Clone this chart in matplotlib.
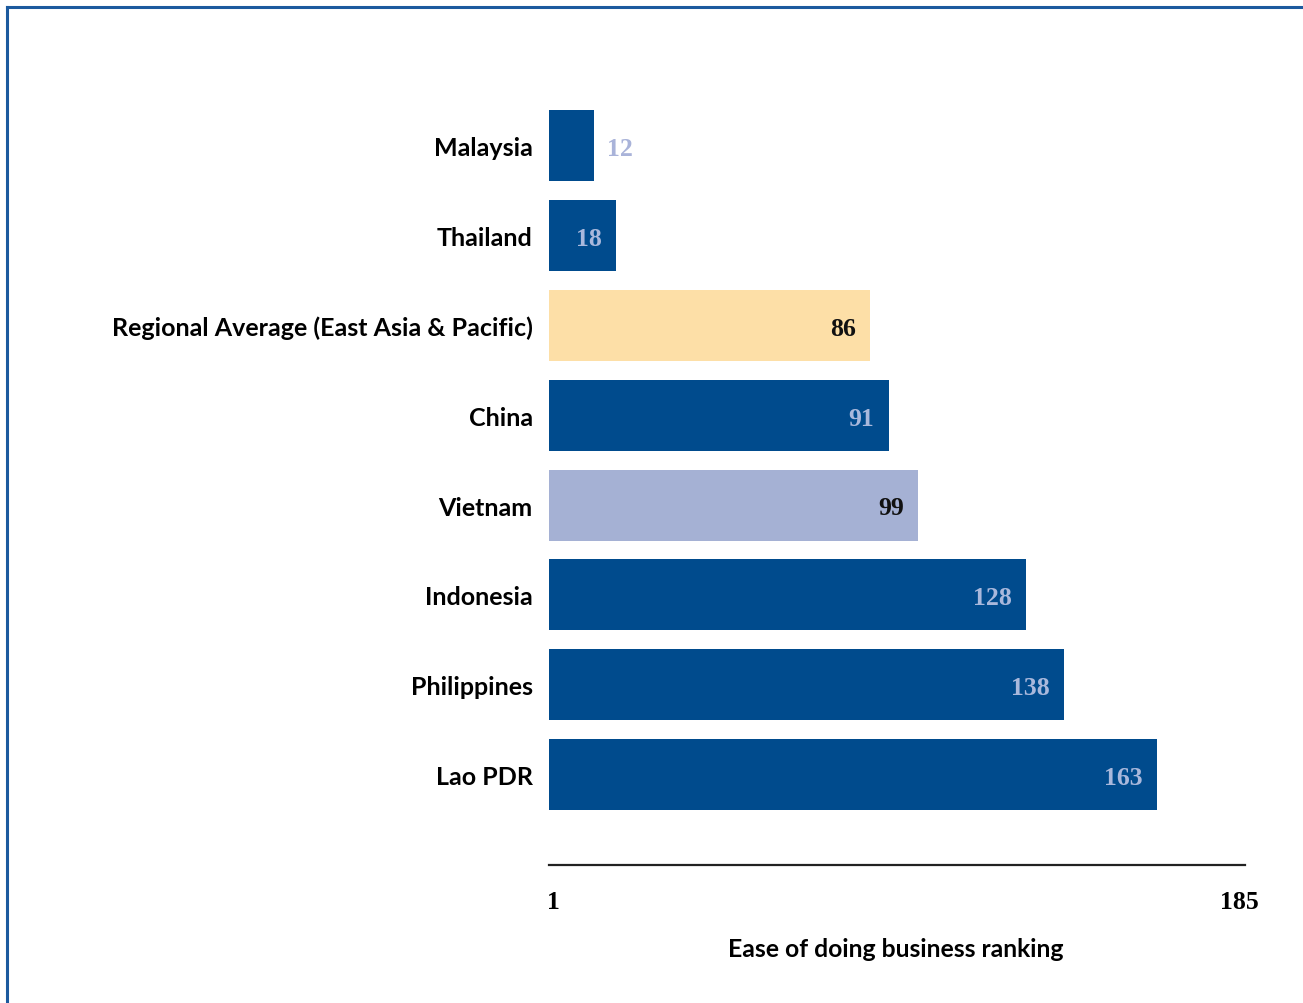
import numpy as np
import matplotlib.pyplot as plt
from matplotlib.lines import Line2D

# data
countries = ["Malaysia", "Thailand", "Regional Average (East Asia & Pacific)",
             "China", "Vietnam", "Indonesia", "Philippines", "Lao PDR"]
rankings = [12, 18, 86, 91, 99, 128, 138, 163]
bar_colors = ["#004B8D", "#004B8D", "#FDDFA7", "#004B8D",
              "#A5B1D4", "#004B8D", "#004B8D", "#004B8D"]
label_colors = ["#A9B3D9", "#A9B8DC", "#111111", "#A9B8DC",
                "#111111", "#A9B8DC", "#A9B8DC", "#A9B8DC"]
axis_ticks = [1, 185]
xlabel = "Ease of doing business ranking"

W, H = 1303, 1004
fig = plt.figure(figsize=(W / 100, H / 100), dpi=100)

# axes placed in pixel terms
x0, x1 = 549.3, 1245
ytop, ybot = 100, 866
ax = fig.add_axes([x0 / W, 1 - ybot / H, (x1 - x0) / W, (ybot - ytop) / H])

pos = np.arange(len(countries))
ax.barh(pos, rankings, height=0.79, color=bar_colors)
ax.set_xlim(0, (x1 - x0) / 3.728)
ax.set_ylim(8.007, -0.523)

for i, (v, c) in enumerate(zip(rankings, label_colors)):
    if v < 15:
        ax.text(v + 3.4, i + 0.03, str(v), ha="left", va="center", color=c,
                fontsize=18.5, fontweight="bold", family="Liberation Serif")
    else:
        ax.text(v - 3.8, i + 0.03, str(v), ha="right", va="center", color=c,
                fontsize=18.5, fontweight="bold", family="Liberation Serif")

ax.set_yticks(pos)
ax.set_yticklabels(countries, fontsize=18, fontweight="bold", family="Lato")
ax.tick_params(axis="y", length=0, pad=12)

ax.set_xticks(axis_ticks)
ax.set_xticklabels([str(t) for t in axis_ticks], fontsize=18.5, fontweight="bold",
                   family="Liberation Serif")
ax.tick_params(axis="x", length=0, pad=18)
ax.set_xlabel(xlabel, fontsize=17.8, fontweight="bold", family="Lato")
ax.xaxis.set_label_coords((896 - x0) / (x1 - x0), -(938 - ybot) / (ybot - ytop))

for s in ["top", "right", "left"]:
    ax.spines[s].set_visible(False)
ax.spines["bottom"].set_linewidth(1.6)
ax.spines["bottom"].set_color("#222222")

# frame lines at top and left edges
fig.add_artist(Line2D([6.5 / W, 1], [1 - 7.5 / H, 1 - 7.5 / H], color="#1C5A9E", lw=2.2))
fig.add_artist(Line2D([6.5 / W, 6.5 / W], [0, 1 - 7.5 / H], color="#1C5A9E", lw=2.2))

fig.savefig("out.png", dpi=100)
